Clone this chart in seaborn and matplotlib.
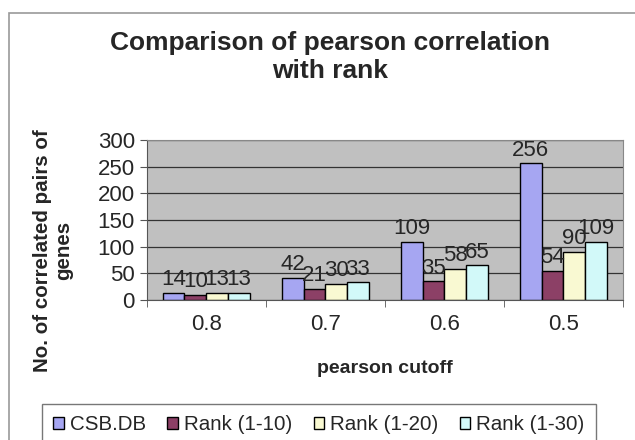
import seaborn as sns
import matplotlib.pyplot as plt
import numpy as np
import pandas as pd

# dados
cutoffs = ['0.8', '0.7', '0.6', '0.5']
series = ['CSB.DB', 'Rank (1-10)', 'Rank (1-20)', 'Rank (1-30)']
csb = [14, 42, 109, 256]
rank10 = [10, 21, 35, 54]
rank20 = [13, 30, 58, 90]
rank30 = [13, 33, 65, 109]
cores = ['#9999FF', '#993366', '#FFFFCC', '#CCFFFF']

df = pd.DataFrame({
    'cutoff': cutoffs * 4,
    'serie': np.repeat(series, 4),
    'valor': csb + rank10 + rank20 + rank30,
})

sns.set_style('white')
plt.rcParams['font.family'] = ['Liberation Sans', 'DejaVu Sans']

fig = plt.figure(figsize=(6.35, 4.4), dpi=100)
ax = fig.add_axes([0.231, 0.318, 0.75, 0.364])

sns.barplot(data=df, x='cutoff', y='valor', hue='serie', order=cutoffs,
            hue_order=series, palette=cores, width=0.73, edgecolor='black',
            linewidth=1, ax=ax, legend=True)

for c in ax.containers:
    ax.bar_label(c, fontsize=16, padding=2)

ax.set_facecolor('#C0C0C0')
ax.set_ylim(0, 300)
ax.set_yticks(range(0, 301, 50))
ax.set_xlim(-0.5, 3.5)
ax.yaxis.grid(True, color='#333333', linewidth=0.9)
ax.set_axisbelow(True)
for s in ['top', 'right']:
    ax.spines[s].set_color('#888888')
ax.spines['left'].set_color('#555555')
ax.spines['bottom'].set_color('#555555')
ax.tick_params(axis='y', labelsize=16, length=5, left=True, color='#555555')
ax.tick_params(axis='x', labelsize=16, length=0, pad=10)
ax.set_xticks([-0.5, 0.5, 1.5, 2.5, 3.5], minor=True)
ax.tick_params(axis='x', which='minor', length=5, bottom=True, color='#555555')

ax.set_xlabel('pearson cutoff', fontsize=14, fontweight='bold', labelpad=18)
ax.set_ylabel('No. of correlated pairs of\ngenes', fontsize=14.8,
              fontweight='bold', linespacing=1.15)
ax.yaxis.set_label_coords(-0.155, 0.31)
fig.suptitle('Comparison of pearson correlation\nwith rank', fontsize=19,
             fontweight='bold', x=0.52, y=0.93, linespacing=1.2)

h, l = ax.get_legend_handles_labels()
ax.get_legend().remove()
fig.legend(h, l, loc='upper left', bbox_to_anchor=(42 / 635, 1 - 404 / 440),
           ncol=4, fontsize=14.8, frameon=True, fancybox=False,
           edgecolor='#555555', handlelength=0.5, handleheight=0.5,
           handletextpad=0.3, columnspacing=1.05, borderpad=0.55,
           borderaxespad=0)

fig.patches.append(plt.Rectangle((9 / 635, -0.05), 1.0, 1.05 - 13 / 440,
                                 transform=fig.transFigure, fill=False,
                                 edgecolor='#999999', linewidth=1.2))

plt.savefig('out.png', dpi=100)
